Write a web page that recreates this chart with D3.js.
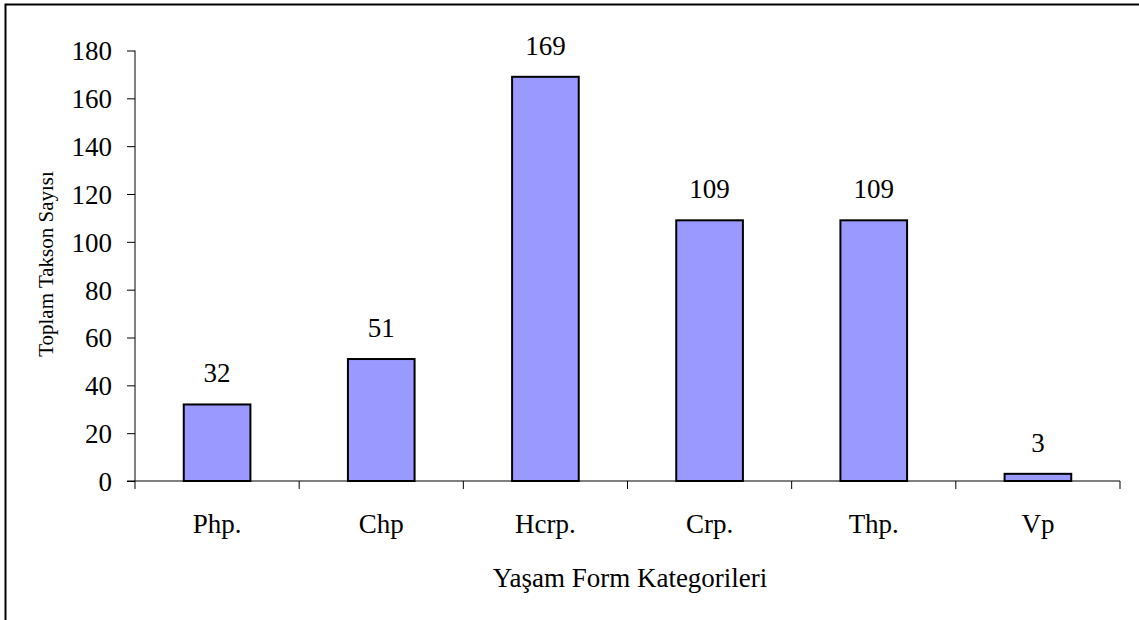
<!DOCTYPE html>
<html>
<head>
<meta charset="utf-8">
<script src="https://cdn.jsdelivr.net/npm/d3@7"></script>
<style>
  body { margin: 0; background: #fff; }
  svg text { font-family: "Liberation Serif", "Times New Roman", serif; fill: #000; }
</style>
</head>
<body>
<svg id="chart" width="1139" height="620"></svg>
<script>
var categories = ['Php.', 'Chp', 'Hcrp.', 'Crp.', 'Thp.', 'Vp'];
var values = [32, 51, 169, 109, 109, 3];
var yTicks = [0, 20, 40, 60, 80, 100, 120, 140, 160, 180];

function draw_chart(svg_id) {
    var svg = d3.select('#' + svg_id);
    var left = 135, right = 1120, top = 50.5, bottom = 481;

    // outer frame, runs off the right and bottom edge like the original
    svg.append('rect')
        .attr('x', 5.5).attr('y', 4.5)
        .attr('width', 1160).attr('height', 640)
        .attr('fill', 'none').attr('stroke', '#000').attr('stroke-width', 2);

    var xs = d3.scaleBand().domain(categories).range([left, right]).paddingInner(0.594).paddingOuter(0.297);
    var ys = d3.scaleLinear().domain([0, 180]).range([bottom, top]);

    // y axis
    var yAxis = svg.append('g').attr('transform', 'translate(' + left + ',0)')
        .call(d3.axisLeft(ys).tickValues(yTicks).tickSize(8).tickPadding(15));
    yAxis.attr('font-family', null);
    yAxis.select('.domain').attr('d', 'M0,' + top + 'V' + bottom);
    yAxis.selectAll('text').style('font-size', '27px').attr('dy', '0.35em');
    yAxis.selectAll('line, path').attr('stroke', '#000');

    // x axis: ticks sit on the category boundaries
    var step = xs.step();
    var bounds = d3.range(categories.length + 1).map(function (i) { return left + i * step; });
    var xg = svg.append('g');
    xg.append('line').attr('x1', left - 8).attr('x2', right).attr('y1', bottom).attr('y2', bottom)
        .attr('stroke', '#000');
    xg.selectAll('.tk').data(bounds).enter().append('line')
        .attr('x1', function (d) { return d; }).attr('x2', function (d) { return d; })
        .attr('y1', bottom).attr('y2', bottom + 8).attr('stroke', '#000');
    xg.selectAll('text').data(categories).enter().append('text')
        .attr('x', function (d) { return xs(d) + xs.bandwidth() / 2; })
        .attr('y', 533)
        .attr('text-anchor', 'middle')
        .style('font-size', '27px')
        .text(function (d) { return d; });

    // bars
    svg.selectAll('.bar').data(values).enter().append('rect')
        .attr('class', 'bar')
        .attr('x', function (d, i) { return xs(categories[i]); })
        .attr('width', xs.bandwidth())
        .attr('y', function (d) { return ys(d); })
        .attr('height', function (d) { return bottom - ys(d); })
        .attr('fill', '#9999ff')
        .attr('stroke', '#000')
        .attr('stroke-width', 2);

    // value labels
    svg.selectAll('.val').data(values).enter().append('text')
        .attr('class', 'val')
        .attr('x', function (d, i) { return xs(categories[i]) + xs.bandwidth() / 2; })
        .attr('y', function (d) { return ys(d) - 22; })
        .attr('text-anchor', 'middle')
        .style('font-size', '27px')
        .text(function (d) { return d; });

    // axis titles
    svg.append('text')
        .attr('transform', 'translate(53,264) rotate(-90)')
        .attr('text-anchor', 'middle')
        .style('font-size', '21px')
        .text('Toplam Takson Sayısı');

    svg.append('text')
        .attr('x', 630).attr('y', 587)
        .attr('text-anchor', 'middle')
        .style('font-size', '27px')
        .text('Yaşam Form Kategorileri');
}

draw_chart('chart');
</script>
</body>
</html>
